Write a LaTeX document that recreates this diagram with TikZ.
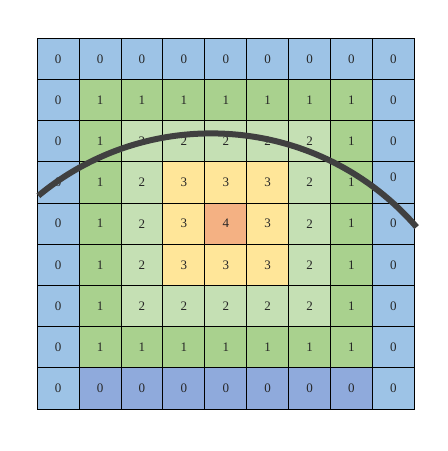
\documentclass[tikz,border=0pt]{standalone}
\usepackage{fontspec}
\setmainfont{Liberation Serif}
\definecolor{v0}{HTML}{9DC3E6}
\definecolor{vb}{HTML}{8FAADC}
\definecolor{v1}{HTML}{A9D18E}
\definecolor{v2}{HTML}{C5E0B4}
\definecolor{v3}{HTML}{FFE699}
\definecolor{v4}{HTML}{F4B183}
\definecolor{arcgray}{HTML}{404040}
\tikzset{
  cell/.style={draw=black, line width=0.9pt, minimum width=41.88pt, minimum height=41.2pt,
    inner sep=0pt, outer sep=0pt, font=\fontsize{13}{14}\selectfont, text=black!85},
  arcline/.style={draw=arcgray, line width=6pt, line cap=butt}
}
\begin{document}
\begin{tikzpicture}[x=1pt,y=1pt]
\useasboundingbox (0,0) rectangle (448,451);
\foreach \r/\vals in {
  0/{0/0,0/0,0/0,0/0,0/0,0/0,0/0,0/0,0/0},
  1/{0/0,1/1,1/1,1/1,1/1,1/1,1/1,1/1,0/0},
  2/{0/0,1/1,2/2,2/2,2/2,2/2,2/2,1/1,0/0},
  3/{0/0,1/1,2/2,3/3,3/3,3/3,2/2,1/1,0/{\raisebox{10pt}{0}}},
  4/{0/0,1/1,2/2,3/3,4/4,3/3,2/2,1/1,0/0},
  5/{0/0,1/1,2/2,3/3,3/3,3/3,2/2,1/1,0/0},
  6/{0/0,1/1,2/2,2/2,2/2,2/2,2/2,1/1,0/0},
  7/{0/0,1/1,1/1,1/1,1/1,1/1,1/1,1/1,0/0},
  8/{0/0,b/0,b/0,b/0,b/0,b/0,b/0,b/0,0/0}}{
  \foreach \k/\t [count=\c from 0] in \vals {
    \node[cell, fill=v\k] (c-\r-\c) at ({37.3+(\c+0.5)*41.88},{412.7-(\r+0.5)*41.2}) {\t};
  }
}
\coordinate (arcc) at (211.4,46.1);
\draw[arcline] (arcc) ++(129.6:271.5) arc[start angle=129.6, end angle=40.9, radius=271.5];
\end{tikzpicture}
\end{document}
